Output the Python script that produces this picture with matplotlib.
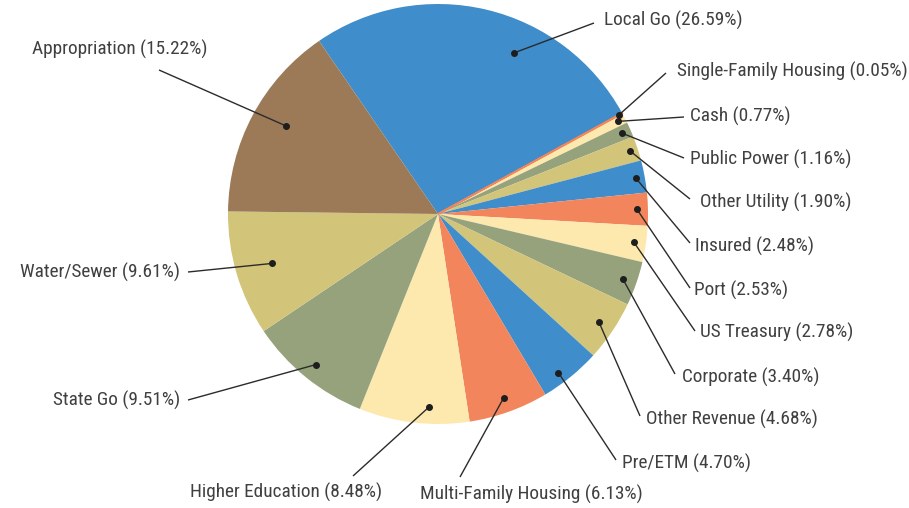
import matplotlib
matplotlib.use("Agg")
import matplotlib.pyplot as plt
import numpy as np
from matplotlib import font_manager

categories = ["Local Go", "Single-Family Housing", "Cash", "Public Power", "Other Utility",
              "Insured", "Port", "US Treasury", "Corporate", "Other Revenue", "Pre/ETM",
              "Multi-Family Housing", "Higher Education", "State Go", "Water/Sewer", "Appropriation"]
values = [26.59, 0.05, 0.77, 1.16, 1.90, 2.48, 2.53, 2.78, 3.40, 4.68, 4.70,
          6.13, 8.48, 9.51, 9.61, 15.22]

BLUE, ORANGE, LIGHT, GREEN, KHAKI, BROWN = "#3f8dca", "#f2855c", "#fde9ae", "#95a27b", "#d2c479", "#9c7a58"
colors = [BLUE, ORANGE, LIGHT, GREEN, KHAKI] * 3 + [BROWN]

# layout (pixel coordinates, y down): text anchor, line end, alignment
text_pos = [(604, 20), (677, 71), (690, 116), (690, 159), (700, 202), (695, 246),
            (694, 290), (700, 332), (682, 377), (646, 419), (622, 463),
            (420, 494), (190, 492), (180, 400), (180, 272), (32, 49)]
line_end = [(594, 23), (666, 73), (684, 117), (684, 158), (690, 199), (690, 243),
            (690, 288), (695, 331), (675, 374), (640, 416), (616, 460),
            (460, 477), (353, 476), (188, 400), (188, 272), (159, 70)]
text_ha = ["left"] * 13 + ["right", "right", "left"]
dot_r = [0.85, 0.98, 0.965, 0.957, 0.962, 0.957, 0.948, 0.943, 0.933, 0.924, 0.948,
         0.929, 0.919, 0.922, 0.824, 0.836]
dot_shift = [-12, 0, 0, 0, 0, 0, 0, 0, 0, 0, -2, 0, 4, 0, 0, -2]

names = {f.name for f in font_manager.fontManager.ttflist}
fam = [f for f in ["Roboto Condensed", "Liberation Sans Narrow", "Roboto"] if f in names] + ["DejaVu Sans"]
plt.rcParams['font.family'] = fam

W, H = 909, 508
fig = plt.figure(figsize=(W / 100, H / 100), dpi=100)
ax = fig.add_axes([0, 0, 1, 1])
cx, cy, R = 438, H - 214, 210
start = 124.5
wedges, _ = ax.pie(values, colors=colors, startangle=start, counterclock=False, center=(cx, cy),
                   radius=R, wedgeprops=dict(linewidth=0), frame=True)
# keep the hairline slice visible
wedges[1].set_edgecolor(ORANGE)
wedges[1].set_linewidth(1.2)
wedges[1].set_zorder(3)
ax.set_xlim(0, W)
ax.set_ylim(0, H)
ax.set_aspect('equal')
ax.axis('off')

total = sum(values)
cum = np.cumsum([0] + values[:-1])
for i, (cat, v) in enumerate(zip(categories, values)):
    mid = start - 360 * (cum[i] + v / 2) / total + dot_shift[i]
    a = np.deg2rad(mid)
    dx = cx + dot_r[i] * R * np.cos(a)
    dy = cy + dot_r[i] * R * np.sin(a)
    ex, ey = line_end[i]
    ax.plot([dx, ex], [dy, H - ey], color="#2b2b2b", lw=1.0, solid_capstyle="butt", zorder=4)
    ax.plot([dx], [dy], "o", color="#1e1e1e", ms=4, zorder=5)
    tx, ty = text_pos[i]
    ax.text(tx, H - ty, f"{cat} ({v:.2f}%)", ha=text_ha[i], va="center",
            fontsize=13.9, color="#404040")

fig.savefig("out.png", dpi=100)
